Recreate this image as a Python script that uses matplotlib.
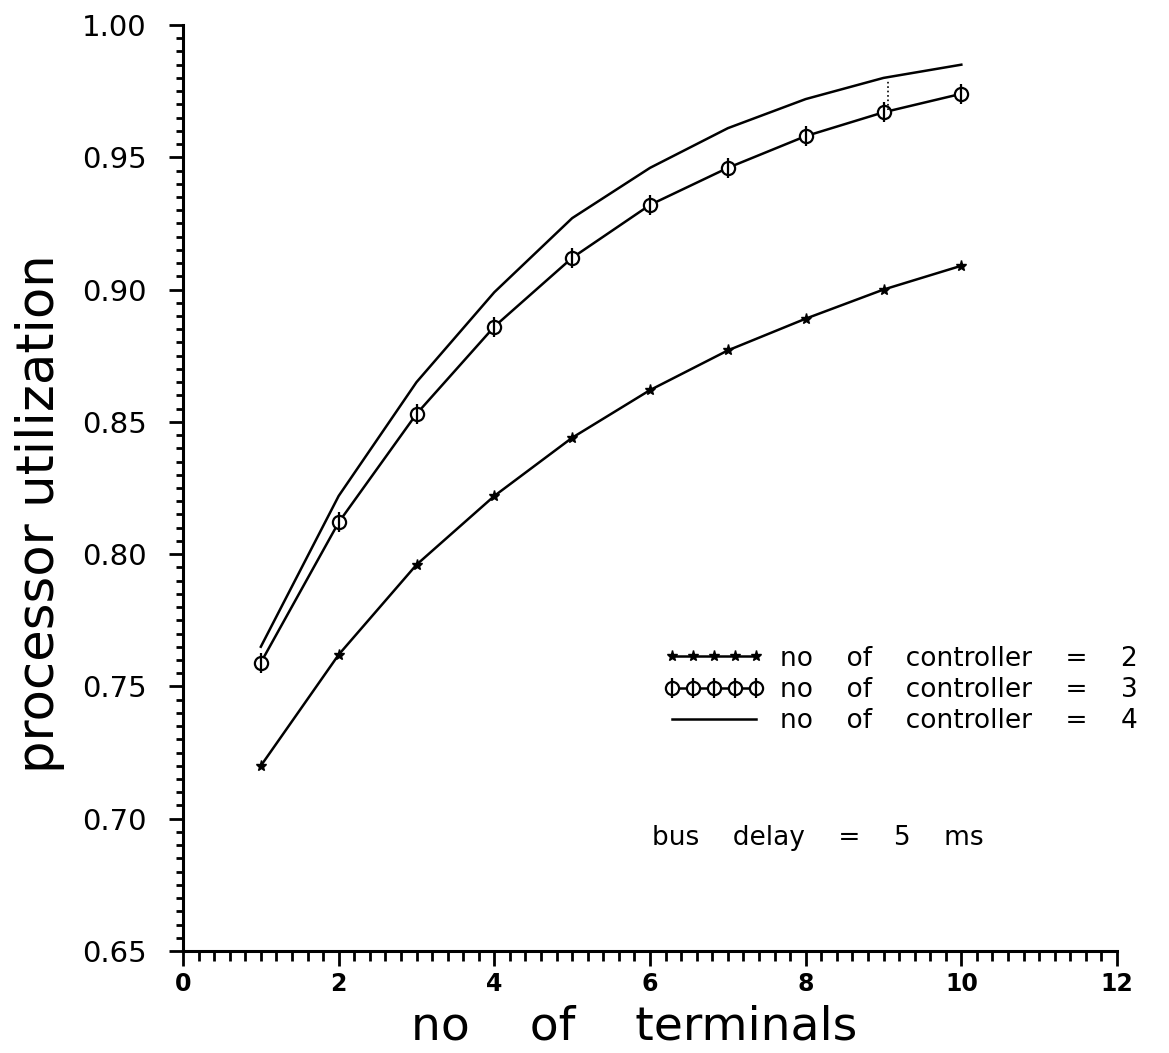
import matplotlib
matplotlib.use('Agg')
import matplotlib.pyplot as plt
import matplotlib.ticker as mticker
from matplotlib.legend_handler import HandlerTuple

# values
terminals = [1, 2, 3, 4, 5, 6, 7, 8, 9, 10]
util_ctrl2 = [0.720, 0.762, 0.796, 0.822, 0.844, 0.862, 0.877, 0.889, 0.900, 0.909]
util_ctrl3 = [0.759, 0.812, 0.853, 0.886, 0.912, 0.932, 0.946, 0.958, 0.967, 0.974]
util_ctrl4 = [0.765, 0.822, 0.865, 0.899, 0.927, 0.946, 0.961, 0.972, 0.980, 0.985]
dotted_x = [9.06, 9.06]
dotted_y = [0.968, 0.979]

labels = ['no    of    controller    =    2',
          'no    of    controller    =    3',
          'no    of    controller    =    4']
note = 'bus    delay    =    5    ms'

plt.rcParams['font.family'] = ['DejaVu Sans']

fig = plt.figure(figsize=(11.69, 10.53), dpi=100)
ax = fig.add_axes([183/1169, 1-951/1053, (1117-183)/1169, (951-25)/1053])

lw = 1.8
l2, = ax.plot(terminals, util_ctrl2, color='black', lw=lw, marker='*', ms=8)
l3, = ax.plot(terminals, util_ctrl3, color='black', lw=lw, marker='o', ms=9.5,
              mfc='white', mec='black', mew=1.6)
l3b, = ax.plot(terminals, util_ctrl3, ls='none', marker='|', ms=15, mec='black', mew=1.6)
l4, = ax.plot(terminals, util_ctrl4, color='black', lw=lw)
ax.plot(dotted_x, dotted_y, color='black', lw=1.2, ls=':')

ax.set_xlim(0, 12)
ax.set_ylim(0.65, 1.00)
ax.spines['top'].set_visible(False)
ax.spines['right'].set_visible(False)
ax.spines['left'].set_linewidth(2.2)
ax.spines['bottom'].set_linewidth(2.2)

ax.xaxis.set_major_locator(mticker.MultipleLocator(2))
ax.xaxis.set_minor_locator(mticker.MultipleLocator(0.2))
ax.yaxis.set_major_locator(mticker.MultipleLocator(0.05))
ax.yaxis.set_minor_locator(mticker.MultipleLocator(0.005))
ax.yaxis.set_major_formatter(mticker.FormatStrFormatter('%.2f'))

ax.tick_params(axis='y', which='major', direction='out', length=10, width=2, pad=16, labelsize=21)
ax.tick_params(axis='y', which='minor', direction='out', length=5, width=2)
ax.tick_params(axis='x', which='major', direction='out', length=11, width=2, pad=4, labelsize=17)
ax.tick_params(axis='x', which='minor', direction='out', length=7, width=2)
for t in ax.get_xticklabels():
    t.set_fontweight('bold')

ax.set_ylabel('processor utilization', fontsize=37, va='center')
ax.yaxis.set_label_coords(-0.153, 0.472)
ax.set_xlabel('no    of    terminals', fontsize=34, va='baseline')
ax.xaxis.set_label_coords(0.483, -0.0961)

ax.legend([l2, (l3, l3b), l4], labels,
          handler_map={tuple: HandlerTuple(ndivide=1)},
          loc='center left', bbox_to_anchor=(0.501, 0.282),
          frameon=False, numpoints=5, fontsize=19, borderpad=0,
          handlelength=3.8, handletextpad=0.6, labelspacing=0.2)

ax.text(0.502, 0.122, note, transform=ax.transAxes, fontsize=19,
        ha='left', va='center')

fig.savefig('out.png', dpi=100)
